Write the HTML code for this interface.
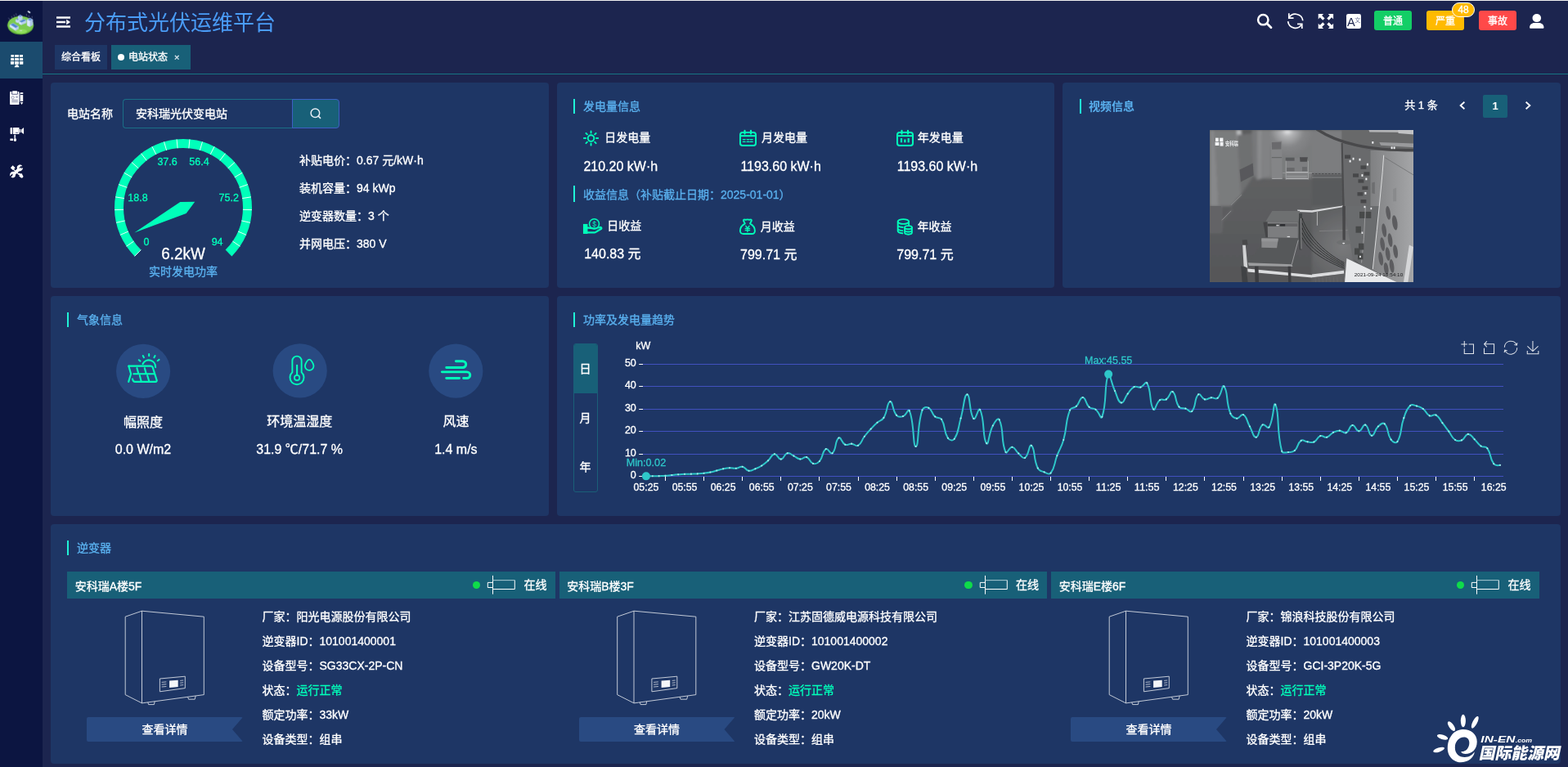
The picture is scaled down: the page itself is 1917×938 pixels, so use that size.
<!DOCTYPE html>
<html lang="zh-CN"><head><meta charset="utf-8"><title>分布式光伏运维平台</title>
<style>
*{box-sizing:border-box;margin:0;padding:0}
html,body{width:1917px;height:938px;overflow:hidden;background:#1c254f;}
body{position:relative;font-family:"Liberation Sans","Noto Sans CJK SC",sans-serif;color:#fff;font-size:14px;-webkit-text-stroke:0.3px currentColor;}
svg text{stroke-width:0.3px;}
.abs{position:absolute}
.t{position:absolute;white-space:nowrap;line-height:20px;height:20px}
.panel{position:absolute;background:#1e3665;border-radius:4px}
.bar{position:absolute;width:2px;height:18px;background:#20f3d6}
.ttl{position:absolute;white-space:nowrap;line-height:20px;height:20px;color:#5ab1ef;font-size:14px}
svg{position:absolute;overflow:visible}
</style></head>
<body>
<div class="abs" style="left:0;top:0;width:52px;height:938px;background:#0c1541"></div>
<div class="abs" style="left:0;top:51px;width:52px;height:45px;background:#1b4b6e"></div>
<div class="abs" style="left:0;top:0;width:1917px;height:1px;background:#f0f0f0"></div>
<svg width="0" height="0" style="left:0;top:0"><defs><filter id="ib" x="-10%" y="-10%" width="120%" height="120%"><feGaussianBlur stdDeviation="9"/></filter><filter id="lb" x="-10%" y="-10%" width="120%" height="120%"><feGaussianBlur stdDeviation="7"/></filter></defs></svg>
<svg style="left:4px;top:6px" width="44" height="44" viewBox="0 0 938 938"><g filter="url(#lb)">
<ellipse cx="450" cy="535" rx="342" ry="238" fill="#63b33a"/>
<ellipse cx="450" cy="515" rx="335" ry="222" fill="#7ccb50"/>
<ellipse cx="470" cy="690" rx="150" ry="60" fill="#8fe05c"/>
<path d="M130 330l40 60M215 290l20 70M270 250l30 60M330 215l10 60M600 230l10 60M660 270l10 50M745 290l10 50" stroke="#8f97b4" stroke-width="14" fill="none" opacity="0.7"/>
<polygon points="380,290 440,255 500,290 500,380 440,410 380,380" fill="#bcd3f1"/>
<polygon points="395,285 440,262 488,287 440,312" fill="#5d93d6"/>
<polygon points="320,380 370,355 420,380 420,450 370,470 320,445" fill="#c5daf5"/>
<polygon points="335,377 370,360 405,378 370,395" fill="#5b8fd2"/>
<polygon points="410,430 540,362 600,400 600,468 470,525 410,492" fill="#b8d0f0"/>
<polygon points="425,430 540,372 590,402 478,455" fill="#4f86cf"/>
<polygon points="410,436 472,462 470,525 410,492" fill="#d8e8fb"/>
<polygon points="170,512 258,470 402,560 402,622 322,672 170,572" fill="#b4cdee"/>
<polygon points="190,512 258,480 385,560 318,595" fill="#4f86cf"/>
<polygon points="170,518 320,602 322,672 170,572" fill="#d6e6fa"/>
<polygon points="620,380 698,338 772,380 772,522 692,572 620,532" fill="#b0c9ea"/>
<polygon points="620,384 694,420 692,572 620,532" fill="#dcebfc"/>
<polygon points="640,378 698,350 752,380 696,408" fill="#5c92d5"/>
<ellipse cx="672" cy="184" rx="44" ry="20" transform="rotate(35 672 184)" fill="#dfe8f4"/>
<rect x="430" y="660" width="60" height="22" fill="#dfe8f0" opacity="0.8"/>
</g></svg>
<svg style="left:6px;top:60px" width="30" height="30" viewBox="0 0 938 938" fill="#fff"><g filter="url(#ib)">
<rect x="232" y="215" width="113" height="92" rx="10"/><rect x="375" y="215" width="155" height="92" rx="10"/><rect x="560" y="215" width="128" height="92" rx="10"/>
<rect x="225" y="345" width="120" height="92" rx="10"/><rect x="375" y="345" width="155" height="92" rx="10"/><rect x="560" y="345" width="132" height="92" rx="10"/>
<rect x="218" y="472" width="127" height="112" rx="10"/><rect x="375" y="472" width="155" height="112" rx="10"/><rect x="560" y="472" width="138" height="112" rx="10"/>
<polygon points="425,600 495,600 540,672 540,692 368,692 368,672"/>
</g></svg>
<svg style="left:6px;top:104px" width="30" height="30" viewBox="0 0 938 938"><g filter="url(#ib)">
<rect x="190" y="252" width="355" height="498" rx="26" fill="#fff"/>
<rect x="252" y="238" width="246" height="128" rx="30" fill="#5a5f85"/>
<rect x="285" y="225" width="185" height="115" rx="22" fill="#fff"/>
<circle cx="302" cy="478" r="52" fill="none" stroke="#7a7f9f" stroke-width="24"/>
<rect x="415" y="420" width="82" height="72" fill="#a9adc4"/>
<rect x="258" y="565" width="240" height="26" fill="#6a6f92"/><rect x="258" y="628" width="240" height="26" fill="#6a6f92"/>
<rect x="585" y="282" width="112" height="62" rx="10" fill="#e4e6ee"/>
<rect x="590" y="378" width="104" height="245" fill="#fff"/>
<polygon points="588,660 697,660 642,752" fill="#fff"/>
<rect x="548" y="300" width="30" height="340" fill="#c9ccda"/>
</g></svg>
<svg style="left:6px;top:149px" width="30" height="30" viewBox="0 0 938 938" fill="#fff"><g filter="url(#ib)">
<rect x="205" y="222" width="80" height="250" rx="26"/>
<rect x="310" y="222" width="236" height="250" rx="14"/>
<rect x="408" y="398" width="94" height="36" fill="#70759a"/>
<rect x="556" y="285" width="46" height="128" rx="14"/>
<polygon points="626,300 722,218 722,472 626,400"/>
<rect x="352" y="492" width="60" height="130" fill="#d4d7e2"/>
<rect x="200" y="640" width="112" height="82" rx="8"/>
<ellipse cx="388" cy="688" rx="52" ry="62"/>
</g></svg>
<svg style="left:6px;top:195px" width="30" height="30" viewBox="0 0 938 938" fill="#fff"><g filter="url(#ib)">
<path d="M480 250C520 190 610 180 660 240L570 320L640 340C670 300 690 330 680 370C660 420 600 450 540 450L400 590C420 650 370 700 300 700C270 700 240 690 235 672L310 590L250 570L200 640C180 600 190 520 250 480C290 460 320 460 350 470L470 350C455 315 460 280 480 250Z"/>
<polygon points="215,318 300,228 395,322 308,412"/>
<path d="M330 380L530 570" stroke="#fff" stroke-width="40"/>
<path d="M505 535L560 520L600 545L640 530L700 640C705 690 660 720 620 705L540 640L555 600L520 580Z"/>
<path d="M545 330L625 255M215 640L300 565" stroke="#0c1541" stroke-width="30"/>
</g></svg>
<svg style="left:69px;top:20px" width="17" height="14" viewBox="0 0 17 14" fill="#fff">
<rect x="0" y="0.3" width="17" height="2.4"/><rect x="0" y="5.8" width="11" height="2.4"/><rect x="0" y="11.3" width="17" height="2.4"/>
<path d="M12.2 3.8L17 7l-4.8 3.2z"/></svg>
<div class="t" style="top:17.00px;font-size:26px;color:#4a9cf7;left:103.00px;line-height:36px;height:36px;top:9.8px;-webkit-text-stroke:0;">分布式光伏运维平台</div>
<svg style="left:1528px;top:6px" width="150" height="40" viewBox="0 0 1917 511">
<g fill="none" stroke="#fff">
<circle cx="208" cy="232" r="79" stroke-width="32"/><path d="M268 292L332 356" stroke-width="36" stroke-linecap="round"/>
<path d="M612 203A116 116 0 0 1 828 246M596 258A116 116 0 0 0 812 302" stroke-width="22"/>
<path d="M611 132V205H684M742 300H815V372" stroke-width="22"/>
</g>
<g fill="#fff">
<path d="M1070 140H1152L1126 166L1170 210L1140 240L1096 196L1070 222Z"/>
<path d="M1305 140V222L1279 196L1235 240L1205 210L1249 166L1223 140Z"/>
<path d="M1070 372V290L1096 316L1140 272L1170 302L1126 346L1152 372Z"/>
<path d="M1305 372H1223L1249 346L1205 302L1235 272L1279 316L1305 290Z"/>
<rect x="1508" y="140" width="230" height="232" rx="30"/>
</g>
<text x="1522" y="333" font-family='"Liberation Sans","Noto Sans CJK SC",sans-serif' font-size="186" fill="#1c254f" stroke="#1c254f" stroke-width="7">A</text>
<text x="1638" y="272" font-family='"Liberation Sans","Noto Sans CJK SC",sans-serif' font-size="90" fill="#6c7398">文</text>
</svg>
<div class="abs" style="left:1680px;top:13px;width:46px;height:24px;border-radius:3px;background:#13ce66;color:#fff;font-size:12px;line-height:26.5px;text-align:center">普通</div>
<div class="abs" style="left:1744px;top:13px;width:46px;height:24px;border-radius:3px;background:#ffba00;color:#fff;font-size:12px;line-height:26.5px;text-align:center">严重</div>
<div class="abs" style="left:1808px;top:13px;width:46px;height:24px;border-radius:3px;background:#ff4949;color:#fff;font-size:12px;line-height:26.5px;text-align:center">事故</div>
<div class="abs" style="left:1775.4px;top:3px;width:27.4px;height:18px;border-radius:9px;border:1px solid #fff;background:#ffba00;color:#fff;font-size:12px;line-height:17.400px;text-align:center">48</div>
<svg style="left:1870px;top:17px" width="19" height="18" viewBox="0 0 19 18" fill="#fff">
<ellipse cx="8.8" cy="5.1" rx="5.3" ry="5"/><path d="M0.1 16.500c0-3.400 2.700-5.600 5.800-5.600h5.800c3.100 0 5.800 2.200 5.800 5.600c0 .8-.5 1.300-1.300 1.300H1.400c-.8 0-1.300-.5-1.300-1.300z"/></svg>
<div class="abs" style="left:67px;top:55px;width:64px;height:30px;background:#1e3665;font-size:12px;line-height:31px;text-align:center">综合看板</div>
<div class="abs" style="left:136px;top:55px;width:97px;height:30px;background:#186078;font-size:12px;line-height:31px"><span class="abs" style="left:8px;top:11px;width:8px;height:8px;border-radius:50%;background:#fff"></span><span class="abs" style="left:21px;top:0">电站状态</span><span class="abs" style="left:77px;top:0;font-size:11px;color:#dfe8f0">×</span></div>
<div class="abs" style="left:52px;top:90px;width:1865px;height:1px;background:#167483"></div>
<div class="panel" style="left:62px;top:101px;width:608.67px;height:251px"></div>
<div class="panel" style="left:680.67px;top:101px;width:608.67px;height:251px"></div>
<div class="panel" style="left:1299.33px;top:101px;width:608.67px;height:251px"></div>
<div class="panel" style="left:62px;top:362px;width:608.67px;height:269px"></div>
<div class="panel" style="left:680.67px;top:362px;width:1227.33px;height:269px"></div>
<div class="panel" style="left:62px;top:641px;width:1846px;height:293px"></div>
<div class="t" style="top:129.00px;font-size:14px;color:#fff;left:82.00px;">电站名称</div>
<div class="abs" style="left:150px;top:121px;width:208px;height:36px;border:1px solid #1a6f86;border-right:none;border-radius:4px 0 0 4px;font-size:14px;line-height:34px;padding-left:15px;color:#fff">安科瑞光伏变电站</div>
<div class="abs" style="left:357px;top:121px;width:58px;height:36px;border:1px solid #3d5fc4;border-radius:0 4px 4px 0;background:#186078"></div>
<svg style="left:379px;top:132px" width="14" height="14" viewBox="0 0 14 14" fill="none" stroke="#e8eef5" stroke-width="1.5">
<circle cx="6.4" cy="6.2" r="5.3"/><path d="M10.3 10.1l2.3 2.3" stroke-linecap="round"/></svg>
<svg style="left:0;top:0" width="1917" height="938" viewBox="0 0 1917 938"><path d="M168.49 309.51A78.5 78.5 0 1 1 279.51 309.51" fill="none" stroke="#00ffba" stroke-width="11.0"/><path d="M164.60 313.40L172.38 305.62M154.53 301.22L163.62 295.03M146.91 287.36L157.00 282.99M142.02 272.32L152.76 269.92M140.04 256.64L151.04 256.29M141.03 240.86L151.90 242.58M144.97 225.55L155.32 229.27M151.70 211.24L161.17 216.84M160.99 198.45L169.24 205.72M172.52 187.63L179.26 196.32M185.86 179.16L190.86 188.96M200.56 173.34L203.63 183.90M216.09 170.37L217.13 181.32M231.91 170.37L230.87 181.32M247.44 173.34L244.37 183.90M262.14 179.16L257.14 188.96M275.48 187.63L268.74 196.32M287.01 198.45L278.76 205.72M296.30 211.24L286.83 216.84M303.03 225.55L292.68 229.27M306.97 240.86L296.10 242.58M307.96 256.64L296.96 256.29M305.98 272.32L295.24 269.92M301.09 287.36L291.00 282.99M293.47 301.22L284.38 295.03" stroke="#fff" stroke-width="1" fill="none" opacity="0.9"/><polygon points="238.23,246.69 220.34,246.88 164.40,284.62 227.66,261.12" fill="#00ffba"/><text x="178.9" y="299.9" text-anchor="middle" font-size="12.5" fill="#00ffba" stroke="#00ffba" font-family='"Liberation Sans","Noto Sans CJK SC",sans-serif'>0</text><text x="168.5" y="246.2" text-anchor="middle" font-size="12.5" fill="#00ffba" stroke="#00ffba" font-family='"Liberation Sans","Noto Sans CJK SC",sans-serif'>18.8</text><text x="204.6" y="202.1" text-anchor="middle" font-size="12.5" fill="#00ffba" stroke="#00ffba" font-family='"Liberation Sans","Noto Sans CJK SC",sans-serif'>37.6</text><text x="243.5" y="202.1" text-anchor="middle" font-size="12.5" fill="#00ffba" stroke="#00ffba" font-family='"Liberation Sans","Noto Sans CJK SC",sans-serif'>56.4</text><text x="279.7" y="246.2" text-anchor="middle" font-size="12.5" fill="#00ffba" stroke="#00ffba" font-family='"Liberation Sans","Noto Sans CJK SC",sans-serif'>75.2</text><text x="265.6" y="299.9" text-anchor="middle" font-size="12.5" fill="#00ffba" stroke="#00ffba" font-family='"Liberation Sans","Noto Sans CJK SC",sans-serif'>94</text><text x="224" y="317.3" text-anchor="middle" font-size="20.3" textLength="53.6" lengthAdjust="spacingAndGlyphs" fill="#fff" stroke="#fff" font-family='"Liberation Sans","Noto Sans CJK SC",sans-serif'>6.2kW</text></svg>
<div class="t" style="top:322.00px;font-size:14px;color:#5ab1ef;left:24.00px;width:400px;text-align:center;">实时发电功率</div>
<div class="t" style="top:186.00px;font-size:14px;color:#fff;left:366.00px;">补贴电价：0.67 元/kW·h</div>
<div class="t" style="top:220.00px;font-size:14px;color:#fff;left:366.00px;">装机容量：94 kWp</div>
<div class="t" style="top:254.00px;font-size:14px;color:#fff;left:366.00px;">逆变器数量：3 个</div>
<div class="t" style="top:288.00px;font-size:14px;color:#fff;left:366.00px;">并网电压：380 V</div>
<div class="bar" style="left:701px;top:121px"></div>
<div class="ttl" style="left:713px;top:120px">发电量信息</div>
<div class="bar" style="left:701px;top:227px;height:20px"></div>
<div class="ttl" style="left:713px;top:228px">收益信息（补贴截止日期：2025-01-01）</div>
<svg style="left:706px;top:152px" width="60" height="32" viewBox="0 0 60 32" fill="none" stroke="#00ffba" stroke-width="1.9" stroke-linecap="round"><circle cx="16.54" cy="17.05" r="3.8"/><path d="M23.04 17.05L25.14 17.05M21.14 21.65L22.62 23.13M16.54 23.55L16.54 25.65M11.94 21.65L10.46 23.13M10.04 17.05L7.94 17.05M11.94 12.45L10.46 10.97M16.54 10.55L16.54 8.45M21.14 12.45L22.62 10.97"/></svg>
<svg style="left:896px;top:152px" width="60" height="32" viewBox="0 0 60 32" fill="none" stroke="#00ffba"><rect x="9" y="10.05" width="19" height="15.9" rx="2.8" stroke-width="2"/><path d="M9 14.15H28" stroke-width="2"/><path d="M14.5 7.8V11.6M22 7.8V11.6" stroke-width="2.2" stroke-linecap="round"/><path d="M12.4 18.6h2.6M17.2 18.6h2.6M21.3 18.6h2.8M12.4 21.4h2.6M17.2 21.4h2.6M21.3 21.4h2.8" stroke-width="1.4" stroke-linecap="round"/></svg>
<svg style="left:1088px;top:152px" width="60" height="32" viewBox="0 0 60 32" fill="none" stroke="#00ffba"><rect x="9" y="10.05" width="19" height="15.9" rx="2.8" stroke-width="2"/><path d="M9 14.15H28" stroke-width="2"/><path d="M14.5 7.8V11.6M22 7.8V11.6" stroke-width="2.2" stroke-linecap="round"/><path d="M14 17V22.2M22.7 17V22.2M18.35 18.6V22.2" stroke-width="2.2"/></svg>
<svg style="left:710px;top:264px" width="30" height="24" viewBox="0 0 1172 938" fill="none" stroke="#00ffba" stroke-linejoin="round" stroke-linecap="round">
<rect x="115" y="388" width="215" height="470" fill="#00ffba" stroke="none"/>
<circle cx="645" cy="382" r="234" stroke-width="60"/>
<text x="645" y="497" text-anchor="middle" font-size="330" fill="#00ffba" stroke="#00ffba" stroke-width="8" font-family='"Liberation Sans","Noto Sans CJK SC",sans-serif'>$</text>
<path d="M325 572C420 552 480 598 600 598H740C800 598 850 570 905 548C965 528 1012 578 982 615L715 778C695 790 680 792 650 792H325" stroke-width="88"/>
<path d="M730 652L880 590" stroke="#1e3665" stroke-width="24"/>
</svg>
<svg style="left:896px;top:260px" width="60" height="32" viewBox="0 0 60 32" fill="none" stroke="#00ffba" stroke-linejoin="round" stroke-linecap="round">
<path d="M14.8 13.4l-1.700-3.200c-.5-1 .3-1.800 1.300-1.600 1.400.4 2.400-.2 3.500-.2s2.100.6 3.500.2c1-.2 1.800.6 1.300 1.600l-1.700 3.200c3.200 1.800 5.900 5.400 5.900 8.800 0 2.600-1.700 3.800-4 3.800h-10c-2.300 0-4-1.200-4-3.800 0-3.400 2.700-7 5.900-8.800z" stroke-width="1.9"/>
<path d="M15.800 16.300l2.100 2.700 2.100-2.700M15.200 19.400h5.400M15.200 21.500h5.400M17.900 19V23.600" stroke-width="1.3"/>
</svg>
<svg style="left:1088px;top:260px" width="60" height="32" viewBox="0 0 60 32" fill="none" stroke="#00ffba" stroke-width="1.9" stroke-linecap="round">
<ellipse cx="16.4" cy="11" rx="6.7" ry="2.9"/>
<path d="M9.700 11v11.500c0 1.400 2.400 2.400 5.600 2.800M23.100 11v4.200M9.700 15.200c0 1.300 2.600 2.500 6 2.800M9.700 19.400c0 1.300 2.300 2.300 5.600 2.700"/>
<ellipse cx="22.5" cy="18.200" rx="4.400" ry="2.100"/>
<path d="M18.100 18.200v6.400c0 1.200 2 2.100 4.400 2.100s4.400-.9 4.400-2.100v-6.400M18.100 21.400c0 1.200 2 2.100 4.400 2.100s4.400-.9 4.400-2.100"/>
</svg>
<div class="t" style="top:158.00px;font-size:14px;color:#fff;left:739.20px;">日发电量</div>
<div class="t" style="top:158.00px;font-size:14px;color:#fff;left:931.00px;">月发电量</div>
<div class="t" style="top:158.00px;font-size:14px;color:#fff;left:1121.70px;">年发电量</div>
<div class="t" style="top:194.10px;font-size:16px;color:#fff;left:713.40px;">210.20 kW·h</div>
<div class="t" style="top:194.10px;font-size:16px;color:#fff;left:905.40px;">1193.60 kW·h</div>
<div class="t" style="top:194.10px;font-size:16px;color:#fff;left:1096.70px;">1193.60 kW·h</div>
<div class="t" style="top:266.00px;font-size:14px;color:#fff;left:742.30px;">日收益</div>
<div class="t" style="top:267.00px;font-size:14px;color:#fff;left:929.80px;">月收益</div>
<div class="t" style="top:267.00px;font-size:14px;color:#fff;left:1121.50px;">年收益</div>
<div class="t" style="top:300.80px;font-size:16px;color:#fff;left:714.20px;">140.83 元</div>
<div class="t" style="top:302.30px;font-size:16px;color:#fff;left:905.00px;">799.71 元</div>
<div class="t" style="top:302.30px;font-size:16px;color:#fff;left:1096.30px;">799.71 元</div>
<div class="bar" style="left:1319.5px;top:121px"></div>
<div class="ttl" style="left:1331px;top:120px;font-weight:700;color:#5ab1ef;-webkit-text-stroke:0">视频信息</div>
<div class="t" style="top:119.00px;font-size:13px;color:#fff;left:1717.20px;">共 1 条</div>
<svg style="left:1783px;top:123px" width="10" height="12" viewBox="0 0 10 12" fill="none" stroke="#fff" stroke-width="1.8"><path d="M7.4 1.8L2.600 6l4.800 4.200"/></svg>
<svg style="left:1863px;top:123px" width="10" height="12" viewBox="0 0 10 12" fill="none" stroke="#fff" stroke-width="1.8"><path d="M2.600 1.800L7.400 6l-4.800 4.200"/></svg>
<div class="abs" style="left:1813px;top:116px;width:30px;height:28px;border-radius:2px;background:#186078;color:#fff;font-size:13px;font-weight:700;line-height:28px;text-align:center;-webkit-text-stroke:0">1</div>
<svg style="left:1479px;top:159px" width="249" height="186" viewBox="0 0 249 186"><defs><filter id="vb" x="-5%" y="-5%" width="110%" height="110%"><feGaussianBlur stdDeviation="0.55"/></filter><filter id="vb2" x="-5%" y="-5%" width="110%" height="110%"><feGaussianBlur stdDeviation="1.6"/></filter><radialGradient id="vlt" gradientUnits="userSpaceOnUse" cx="95" cy="0" r="34"><stop offset="0" stop-color="#f3f4f6"/><stop offset="0.22" stop-color="#b3b4b6"/><stop offset="0.6" stop-color="#858688"/><stop offset="1" stop-color="#7a7b7d"/></radialGradient><linearGradient id="vcab" gradientUnits="userSpaceOnUse" x1="196" y1="0" x2="249" y2="0"><stop offset="0" stop-color="#7f8082"/><stop offset="1" stop-color="#a5a6a8"/></linearGradient><linearGradient id="vfl" gradientUnits="userSpaceOnUse" x1="0" y1="60" x2="0" y2="186"><stop offset="0" stop-color="#5e5f61"/><stop offset="1" stop-color="#555658"/></linearGradient><radialGradient id="vfl2" gradientUnits="userSpaceOnUse" cx="163" cy="142" r="45"><stop offset="0" stop-color="#797a7c"/><stop offset="1" stop-color="#616264"/></radialGradient><clipPath id="vclip"><rect x="0" y="0" width="249" height="186"/></clipPath></defs><g clip-path="url(#vclip)"><rect x="0" y="0" width="249" height="186" fill="#5b5c5e"/><g filter="url(#vb2)"><polygon points="63.4,0.0 125.0,0.0 125.0,59.5 63.4,59.5" fill="url(#vlt)" /><polygon points="125.0,0.0 162.7,0.0 162.7,54.0 125.0,54.0" fill="#7c7d7f" /><polygon points="0.0,0.0 5.9,0.0 10.9,93.0 0.0,93.0" fill="#87888a" /><polygon points="5.0,0.0 33.7,0.0 38.7,79.3 25.8,93.0 10.9,93.0" fill="#7a7b7d" /><polygon points="32.7,0.0 38.7,0.0 39.6,11.9 33.7,11.9" fill="#b8b9bb" /><polygon points="33.7,5.9 52.5,4.0 54.0,55.5 38.2,79.3" fill="#6e6f71" /><polygon points="51.5,0.0 64.4,0.0 64.4,59.5 58.0,61.4 53.5,55.5" fill="#77787a" /><polygon points="58.0,0.0 63.9,0.0 63.4,59.5 58.5,60.5" fill="#8a8b8d" /><polygon points="64.4,0.0 73.8,0.0 73.8,55.5 64.4,58.5" fill="#818284" /><polygon points="38.7,79.3 54.0,56.0 59.5,63.4 75.3,59.5 125.0,59.5 125.0,93.0 25.8,93.0" fill="url(#vfl)" /><polygon points="125.0,58.5 162.7,58.5 166.6,93.0 125.0,93.0" fill="#595a5c" /><polygon points="0.0,93.0 125.0,93.0 125.0,186.0 0.0,186.0" fill="url(#vfl)" /><polygon points="0.0,93.0 14.9,93.0 14.9,109.8 25.8,98.0 26.3,93.0 26.8,93.0 27.8,98.9 15.9,111.8 14.9,125.7 0.0,125.7" fill="#67686a" /><polygon points="125.0,93.0 176.5,93.0 176.5,186.0 125.0,186.0" fill="url(#vfl2)" /></g><g filter="url(#vb)"><polygon points="36.5,48.6 52.7,40.6 53.7,55.5 37.9,63.4" fill="#58595b" /><polyline points="38.9,79.3 26.0,91.7" fill="none" stroke="#8d8e90" stroke-width="0.9" /><polyline points="14.9,110.3 26.0,98.9" fill="none" stroke="#8f9092" stroke-width="0.9" /><polygon points="74.8,13.9 88.2,13.4 88.7,59.5 75.8,60.0" fill="#848587" /><polygon points="75.8,14.9 87.4,14.7 87.4,23.6 76.1,23.8" fill="#6a6b6d" /><polyline points="75.8,33.7 88.2,33.7" fill="none" stroke="#5b5c5e" stroke-width="0.9" /><polyline points="76.3,59.5 88.7,59.3" fill="none" stroke="#a7a8aa" stroke-width="1.0" /><polygon points="92.7,34.2 120.4,34.2 120.4,60.5 92.7,60.5" fill="#7e7f81" /><polygon points="92.7,33.7 103.6,33.7 103.6,37.7 92.7,37.7" fill="#595a5c" /><polygon points="110.0,33.2 119.9,33.2 118.9,38.7 110.5,38.7" fill="#4d4e50" /><polygon points="94.2,46.1 103.6,46.1 103.6,50.5 94.2,50.5" fill="#67686a" /><polygon points="113.0,45.1 118.9,45.1 118.9,50.5 113.0,50.5" fill="#696a6c" /><polyline points="93.2,51.5 120.4,51.5" fill="none" stroke="#b4b5b7" stroke-width="1.0" /><polyline points="93.2,59.5 120.4,59.5" fill="none" stroke="#b4b5b7" stroke-width="1.0" /><polyline points="93.2,37.7 93.2,60.5" fill="none" stroke="#a7a8aa" stroke-width="0.8" /><polyline points="120.4,37.7 120.4,60.5" fill="none" stroke="#a7a8aa" stroke-width="0.8" /><polygon points="94.2,55.5 118.9,55.5 118.9,58.5 94.2,58.5" fill="#8e8f91" /><polyline points="125.0,53.5 161.7,53.5" fill="none" stroke="#494a4c" stroke-width="0.9" stroke-dasharray="2.5 1.5"/><polyline points="125.0,58.0 161.7,58.0" fill="none" stroke="#898a8c" stroke-width="0.9" /><polyline points="89.2,52.5 125.0,52.5" fill="none" stroke="#999a9c" stroke-width="0.8" /><polygon points="0.0,93.0 13.9,93.0 13.9,124.7 0.0,125.7" fill="#636466" /><polygon points="161.7,0.0 250.0,0.0 250.0,25.8 196.4,24.8 161.7,14.9" fill="#68696b" /><polygon points="194.4,0.0 250.0,0.0 250.0,3.0 195.4,2.5" fill="#b3b4b6" /><polygon points="230.1,0.0 250.0,0.0 250.0,5.5 230.6,4.0" fill="#c1c2c4" /><polygon points="207.3,14.9 250.0,16.4 250.0,21.3 209.2,18.8" fill="#999a9c" /><polygon points="161.2,14.9 196.4,24.8 196.4,93.0 164.6,93.0" fill="#696a6c" /><polygon points="164.6,93.0 196.4,93.0 208.3,93.0 199.3,172.3 184.5,164.4 174.6,156.4" fill="#6b6c6e" /><polygon points="196.4,24.8 250.0,26.0 250.0,93.0 196.4,93.0" fill="url(#vcab)" /><polygon points="207.3,93.0 250.0,93.0 250.0,186.0 228.1,186.0 199.3,171.3" fill="url(#vcab)" /><polygon points="160.7,15.9 162.7,15.9 164.6,93.0 162.2,93.0" fill="#4b4c4e" /><polyline points="214.2,33.7 250.0,55.5" fill="none" stroke="#696a6c" stroke-width="0.7" /><polyline points="212.7,30.7 211.2,51.5 207.3,93.0" fill="none" stroke="#e5e6e8" stroke-width="0.9" /><polyline points="207.3,93.0 204.3,122.7 199.3,170.3" fill="none" stroke="#e5e6e8" stroke-width="0.9" /><polyline points="190.4,93.0 188.4,132.6 185.5,162.4" fill="none" stroke="#afb0b2" stroke-width="0.7" /><path d="M130.9 -1.0C157.7 16.8 194.4 24.8 250.0 24.8" fill="none" stroke="#494a4c" stroke-width="3.4"/><polygon points="174.6,33.8 176.5,33.8 176.5,36.6 174.6,36.6" fill="#eff0f2" /><polygon points="182.5,34.8 184.5,34.8 184.5,37.6 182.5,37.6" fill="#eff0f2" /><polygon points="191.9,40.7 193.9,40.7 193.9,43.5 191.9,43.5" fill="#eff0f2" /><polygon points="190.4,58.6 192.4,58.6 192.4,61.3 190.4,61.3" fill="#eff0f2" /><polygon points="189.4,75.9 191.4,75.9 191.4,78.7 189.4,78.7" fill="#eff0f2" /><polygon points="185.5,54.1 187.4,54.1 187.4,56.9 185.5,56.9" fill="#eff0f2" /><polygon points="170.6,36.8 172.6,36.8 172.6,39.5 170.6,39.5" fill="#eff0f2" /><polygon points="198.3,14.0 200.3,14.0 200.3,16.7 198.3,16.7" fill="#eff0f2" /><polygon points="221.6,20.4 223.6,20.4 223.6,23.2 221.6,23.2" fill="#eff0f2" /><polygon points="224.6,20.4 226.6,20.4 226.6,23.2 224.6,23.2" fill="#eff0f2" /><polygon points="184.5,43.4 191.4,43.4 191.4,47.8 184.5,47.8" fill="#464749" /><polygon points="188.4,51.3 195.4,51.3 195.4,55.7 188.4,55.7" fill="#464749" /><polygon points="181.5,60.3 188.4,60.3 188.4,64.6 181.5,64.6" fill="#464749" /><polygon points="186.4,68.7 193.4,68.7 193.4,73.0 186.4,73.0" fill="#464749" /><polygon points="180.5,76.1 187.4,76.1 187.4,80.5 180.5,80.5" fill="#464749" /><polygon points="184.5,85.0 191.4,85.0 191.4,89.4 184.5,89.4" fill="#464749" /><polygon points="175.0,53.3 182.0,53.3 182.0,57.7 175.0,57.7" fill="#464749" /><polygon points="165.1,30.5 172.1,30.5 172.1,34.9 165.1,34.9" fill="#464749" /><polygon points="183.0,99.9 189.4,99.9 189.4,107.9 183.0,107.9" fill="#47484a" /><polygon points="190.9,99.9 197.3,99.9 197.3,107.9 190.9,107.9" fill="#47484a" /><polygon points="178.5,117.8 185.0,117.8 185.0,125.7 178.5,125.7" fill="#47484a" /><polygon points="182.0,138.6 188.4,138.6 188.4,146.5 182.0,146.5" fill="#47484a" /><polygon points="177.0,144.5 183.5,144.5 183.5,152.5 177.0,152.5" fill="#47484a" /><polygon points="181.0,150.5 187.4,150.5 187.4,158.4 181.0,158.4" fill="#47484a" /><polygon points="188.5,92.8 190.3,92.8 190.3,95.2 188.5,95.2" fill="#ebecee" /><polygon points="196.5,94.8 198.2,94.8 198.2,97.2 196.5,97.2" fill="#ebecee" /><polygon points="185.6,124.5 187.3,124.5 187.3,126.9 185.6,126.9" fill="#ebecee" /><polygon points="183.1,153.8 184.9,153.8 184.9,156.1 183.1,156.1" fill="#ebecee" /><polygon points="198.3,64.4 201.8,63.4 201.8,78.3 198.3,77.3" fill="#6d6e70" /><polygon points="224.1,72.3 228.1,70.4 228.1,87.2 224.1,87.2" fill="#898a8c" /><ellipse cx="218.2" cy="101.4" rx="2.7" ry="8.4" fill="#5b5c5e" transform="rotate(-8 218.2 101.4)"/><ellipse cx="226.3" cy="113.3" rx="3.1" ry="9.2" fill="#5b5c5e" transform="rotate(-8 226.3 113.3)"/><ellipse cx="213.2" cy="122.7" rx="2.7" ry="8.4" fill="#5b5c5e" transform="rotate(-8 213.2 122.7)"/><ellipse cx="220.6" cy="134.6" rx="2.7" ry="8.4" fill="#5b5c5e" transform="rotate(-8 220.6 134.6)"/><ellipse cx="227.1" cy="148.5" rx="2.7" ry="8.4" fill="#5b5c5e" transform="rotate(-8 227.1 148.5)"/><ellipse cx="211.2" cy="139.6" rx="2.7" ry="8.4" fill="#5b5c5e" transform="rotate(-8 211.2 139.6)"/><ellipse cx="217.7" cy="151.5" rx="2.7" ry="8.4" fill="#5b5c5e" transform="rotate(-8 217.7 151.5)"/><ellipse cx="209.2" cy="157.4" rx="2.7" ry="8.4" fill="#5b5c5e" transform="rotate(-8 209.2 157.4)"/><ellipse cx="215.7" cy="169.3" rx="2.7" ry="7.4" fill="#5b5c5e" transform="rotate(-8 215.7 169.3)"/><ellipse cx="222.6" cy="166.3" rx="2.7" ry="8.4" fill="#5b5c5e" transform="rotate(-8 222.6 166.3)"/><polygon points="243.9,140.6 248.9,143.0 242.4,186.0 237.0,186.0" fill="#d5d6d8" /><polygon points="107.0,97.5 125.0,98.2 125.0,100.7 108.0,100.1" fill="#d9dadc" /><polygon points="125.0,98.2 162.7,92.5 163.7,94.0 125.0,100.7" fill="#d9dadc" /><polyline points="131.4,99.9 131.4,116.8" fill="none" stroke="#bcbdbf" stroke-width="0.9" /><polyline points="133.9,123.5 168.6,122.7" fill="none" stroke="#898a8c" stroke-width="0.7" /><polygon points="162.2,93.0 165.8,93.0 165.8,135.6 162.5,135.6" fill="#464749" /><ellipse cx="163.9" cy="137.4" rx="9" ry="2.8" fill="#6e6f71"/><ellipse cx="163.7" cy="138.6" rx="1.6" ry="0.8" fill="#dfe0e2"/><polygon points="76.3,98.9 110.2,98.9 108.2,112.0 68.4,111.8" fill="#6e6f71" /><polygon points="69.4,112.3 107.8,112.6 107.8,131.9 70.9,131.3" fill="#7c7d7f" /><polygon points="70.2,114.3 107.2,114.3 107.2,118.0 70.2,117.8" fill="#636466" /><polygon points="70.9,114.8 85.2,114.8 85.2,117.6 70.9,117.6" fill="#3e3f41" /><polygon points="86.0,115.0 92.2,115.0 92.2,117.6 86.0,117.6" fill="#2d2e30" /><polygon points="81.3,115.8 84.7,115.8 84.7,117.4 81.3,117.4" fill="#cecfd1" /><polygon points="94.6,129.9 98.1,129.9 98.1,131.1 94.6,131.1" fill="#dfe0e2" /><polygon points="65.4,112.8 70.6,112.3 70.9,131.3 68.4,131.3" fill="#444547" /><polygon points="68.4,131.9 108.2,132.6 100.3,164.6 46.6,162.4" fill="#57585a" /><polygon points="63.4,132.6 83.7,132.8 82.1,144.3 63.4,143.7" fill="#8a8b8d" /><polygon points="63.4,132.6 83.7,132.8 83.3,136.6 63.4,136.2" fill="#949597" /><polygon points="46.6,162.2 100.3,164.2 101.6,167.1 47.8,165.9" fill="#9b9c9e" /><polyline points="108.2,134.6 100.3,164.4" fill="none" stroke="#999a9c" stroke-width="1.0" /><polygon points="40.1,140.4 43.8,140.4 46.4,168.8 41.6,166.5" fill="#d1d2d4" /><polygon points="39.6,134.6 45.6,134.1 46.6,140.6 40.1,140.6" fill="#494a4c" /><polygon points="46.1,169.5 125.0,177.2 125.0,180.4 46.6,173.5" fill="#dbdcde" /><polygon points="125.0,176.4 163.9,171.8 164.2,175.5 125.0,180.4" fill="#dbdcde" /><polygon points="55.0,166.8 59.5,166.8 60.0,186.0 55.5,186.0" fill="#3d3e40" /><polygon points="95.6,166.8 99.1,166.8 99.6,186.0 96.1,186.0" fill="#3d3e40" /><polygon points="38.2,166.3 44.6,168.3 46.6,186.0 39.6,186.0" fill="#414244" /><polygon points="109.0,101.9 113.0,101.9 112.5,146.5 109.5,146.5" fill="#434446" /><polyline points="111.5,107.9 112.0,145.5" fill="none" stroke="#c7c8ca" stroke-width="0.6" /><path d="M113.0 107.9C118.9 125.7 136.9 148.5 164.6 162.4" fill="none" stroke="#2b2c2e" stroke-width="0.9"/><path d="M113.0 113.8C118.9 130.7 136.9 151.0 164.6 164.2" fill="none" stroke="#2b2c2e" stroke-width="0.9"/><path d="M113.0 119.8C118.9 135.6 136.9 153.5 164.6 165.9" fill="none" stroke="#2b2c2e" stroke-width="0.9"/><path d="M113.0 125.7C118.9 140.6 136.9 155.9 164.6 167.7" fill="none" stroke="#2b2c2e" stroke-width="0.9"/><path d="M113.0 131.7C118.9 145.5 136.9 158.4 164.6 169.5" fill="none" stroke="#2b2c2e" stroke-width="0.9"/><polyline points="129.0,180.2 129.5,186.0" fill="none" stroke="#7c7d7f" stroke-width="0.7" /><polyline points="133.4,180.2 133.9,186.0" fill="none" stroke="#7c7d7f" stroke-width="0.7" /><polyline points="137.9,180.2 138.4,186.0" fill="none" stroke="#7c7d7f" stroke-width="0.7" /><polyline points="142.3,180.2 142.8,186.0" fill="none" stroke="#7c7d7f" stroke-width="0.7" /><polyline points="146.8,180.2 147.3,186.0" fill="none" stroke="#7c7d7f" stroke-width="0.7" /><polyline points="151.3,180.2 151.8,186.0" fill="none" stroke="#7c7d7f" stroke-width="0.7" /><polyline points="155.7,180.2 156.2,186.0" fill="none" stroke="#7c7d7f" stroke-width="0.7" /><polyline points="160.2,180.2 160.7,186.0" fill="none" stroke="#7c7d7f" stroke-width="0.7" /><polyline points="164.6,180.2 165.1,186.0" fill="none" stroke="#7c7d7f" stroke-width="0.7" /><polygon points="125.0,180.2 164.6,175.8 164.6,186.0 125.0,186.0" fill="#5d5e60" opacity="0.6"/><polygon points="167.4,156.9 228.6,186.0 165.1,186.0" fill="#e8e9eb" /></g><g fill="#f1f2f4"><rect x="7" y="9.6" width="3.8" height="4.4"/><rect x="12.200" y="9.600" width="4.2" height="4.4"/><rect x="6.600" y="14.800" width="4.800" height="4.200"/><rect x="12.600" y="14.600" width="4" height="5"/></g><text x="19" y="18.600" font-size="6.5" font-weight="700" fill="#eeeff1" font-family='"Liberation Sans","Noto Sans CJK SC",sans-serif' textLength="15.8" lengthAdjust="spacingAndGlyphs">安科瑞</text><text x="176.800" y="179.300" font-size="5.6" fill="#1b1c1e" font-family='"Liberation Sans","Noto Sans CJK SC",sans-serif' textLength="59.4" lengthAdjust="spacingAndGlyphs">2021-09-24 10:54:10</text></g></svg>
<div class="bar" style="left:82px;top:382px"></div>
<div class="ttl" style="left:94px;top:381px">气象信息</div>
<svg style="left:135px;top:415px" width="80" height="80" viewBox="0 0 938 938"><circle cx="470.2" cy="456.1" r="388.1" fill="#294a82"/><g fill="none" stroke="#00ffba" stroke-linecap="round" stroke-linejoin="round">
<path d="M262 383H575Q600 383 608 408L664 585Q670 608 645 608H352Q325 608 316 568" stroke-width="25"/>
<path d="M262 383L294 495L260 608" stroke-width="25"/>
<path d="M332 495H632M380 412L400 482M490 412L510 482M420 520L440 596M530 520L553 596" stroke-width="24"/>
<path d="M464 352A96 96 0 0 1 646 400" stroke-width="25"/>
<path d="M408 296L428 312M466 235L480 260M553 212V238M640 235L626 260M698 292L676 308" stroke-width="24"/></g></svg>
<svg style="left:326px;top:415px" width="80" height="80" viewBox="0 0 938 938"><circle cx="477.2" cy="450.2" r="388.1" fill="#294a82"/><g fill="none" stroke="#00ffba" stroke-linecap="round" stroke-linejoin="round">
<path d="M368 472V308A66 66 0 0 1 500 308V472A100 100 0 1 1 368 472Z" stroke-width="22"/>
<circle cx="435" cy="552" r="37" stroke-width="21"/>
<path d="M435 372V515" stroke-width="24"/>
<path d="M612 288C634 288 674 346 674 382A62 62 0 0 1 550 382C550 346 590 288 612 288Z" stroke-width="21"/></g></svg>
<svg style="left:517px;top:415px" width="80" height="80" viewBox="0 0 938 938"><circle cx="472.5" cy="453.8" r="388.1" fill="#294a82"/><g fill="none" stroke="#00ffba" stroke-linecap="round" stroke-linejoin="round">
<path d="M474 313H572A46 46 0 0 1 572 405H337" stroke-width="34"/>
<path d="M274 467H632A45 45 0 0 1 632 557H582" stroke-width="34"/>
<path d="M337 557H522" stroke-width="34"/></g></svg>
<div class="t" style="top:507.00px;font-size:16px;color:#fff;left:-25.00px;width:400px;text-align:center;">幅照度</div>
<div class="t" style="top:506.30px;font-size:16px;color:#fff;left:166.20px;width:400px;text-align:center;">环境温湿度</div>
<div class="t" style="top:506.10px;font-size:16px;color:#fff;left:357.40px;width:400px;text-align:center;">风速</div>
<div class="t" style="top:540.30px;font-size:16px;color:#fff;left:-25.00px;width:400px;text-align:center;">0.0 W/m2</div>
<div class="t" style="top:540.10px;font-size:16px;color:#fff;left:166.20px;width:400px;text-align:center;">31.9 ℃/71.7 %</div>
<div class="t" style="top:540.00px;font-size:16px;color:#fff;left:357.40px;width:400px;text-align:center;">1.4 m/s</div>
<div class="bar" style="left:701px;top:382px"></div>
<div class="ttl" style="left:713px;top:381px">功率及发电量趋势</div>
<div class="abs" style="left:701px;top:419.5px;width:30px;height:182px;border:1px solid #1a5f78;border-radius:3px;overflow:hidden"><div style="height:60px;background:#186078"></div></div>
<div class="t" style="top:440.60px;font-size:14px;color:#fff;left:515.60px;width:400px;text-align:center;">日</div>
<div class="t" style="top:500.90px;font-size:14px;color:#fff;left:515.60px;width:400px;text-align:center;">月</div>
<div class="t" style="top:561.10px;font-size:14px;color:#fff;left:515.60px;width:400px;text-align:center;">年</div>
<svg style="left:0;top:0" width="1917" height="938" viewBox="0 0 1917 938"><path d="M786.0 582.50H1838.0" stroke="#4150be" stroke-width="1"/><path d="M781.2 582.50H786.0" stroke="#ffffff" stroke-width="1"/><text x="777.8" y="585.30" text-anchor="end" font-size="12.5" fill="#ffffff" stroke="#ffffff" font-family='"Liberation Sans","Noto Sans CJK SC",sans-serif'>0</text><path d="M786.0 555.50H1838.0" stroke="#4150be" stroke-width="1"/><path d="M781.2 555.50H786.0" stroke="#ffffff" stroke-width="1"/><text x="777.8" y="558.30" text-anchor="end" font-size="12.5" fill="#ffffff" stroke="#ffffff" font-family='"Liberation Sans","Noto Sans CJK SC",sans-serif'>10</text><path d="M786.0 527.50H1838.0" stroke="#4150be" stroke-width="1"/><path d="M781.2 527.50H786.0" stroke="#ffffff" stroke-width="1"/><text x="777.8" y="530.30" text-anchor="end" font-size="12.5" fill="#ffffff" stroke="#ffffff" font-family='"Liberation Sans","Noto Sans CJK SC",sans-serif'>20</text><path d="M786.0 500.50H1838.0" stroke="#4150be" stroke-width="1"/><path d="M781.2 500.50H786.0" stroke="#ffffff" stroke-width="1"/><text x="777.8" y="503.30" text-anchor="end" font-size="12.5" fill="#ffffff" stroke="#ffffff" font-family='"Liberation Sans","Noto Sans CJK SC",sans-serif'>30</text><path d="M786.0 472.50H1838.0" stroke="#4150be" stroke-width="1"/><path d="M781.2 472.50H786.0" stroke="#ffffff" stroke-width="1"/><text x="777.8" y="475.30" text-anchor="end" font-size="12.5" fill="#ffffff" stroke="#ffffff" font-family='"Liberation Sans","Noto Sans CJK SC",sans-serif'>40</text><path d="M786.0 445.50H1838.0" stroke="#4150be" stroke-width="1"/><path d="M781.2 445.50H786.0" stroke="#ffffff" stroke-width="1"/><text x="777.8" y="448.30" text-anchor="end" font-size="12.5" fill="#ffffff" stroke="#ffffff" font-family='"Liberation Sans","Noto Sans CJK SC",sans-serif'>50</text><path d="M813.50 583V588M860.50 583V588M907.50 583V588M954.50 583V588M1001.50 583V588M1049.50 583V588M1096.50 583V588M1143.50 583V588M1190.50 583V588M1237.50 583V588M1284.50 583V588M1331.50 583V588M1378.50 583V588M1425.50 583V588M1472.50 583V588M1520.50 583V588M1567.50 583V588M1614.50 583V588M1661.50 583V588M1708.50 583V588M1755.50 583V588M1802.50 583V588" stroke="#ffffff" stroke-width="1" fill="none"/><text x="789.93" y="600.1" text-anchor="middle" font-size="12.5" fill="#ffffff" stroke="#ffffff" textLength="30.8" lengthAdjust="spacingAndGlyphs" font-family='"Liberation Sans","Noto Sans CJK SC",sans-serif'>05:25</text><text x="837.03" y="600.1" text-anchor="middle" font-size="12.5" fill="#ffffff" stroke="#ffffff" textLength="30.8" lengthAdjust="spacingAndGlyphs" font-family='"Liberation Sans","Noto Sans CJK SC",sans-serif'>05:55</text><text x="884.13" y="600.1" text-anchor="middle" font-size="12.5" fill="#ffffff" stroke="#ffffff" textLength="30.8" lengthAdjust="spacingAndGlyphs" font-family='"Liberation Sans","Noto Sans CJK SC",sans-serif'>06:25</text><text x="931.24" y="600.1" text-anchor="middle" font-size="12.5" fill="#ffffff" stroke="#ffffff" textLength="30.8" lengthAdjust="spacingAndGlyphs" font-family='"Liberation Sans","Noto Sans CJK SC",sans-serif'>06:55</text><text x="978.34" y="600.1" text-anchor="middle" font-size="12.5" fill="#ffffff" stroke="#ffffff" textLength="30.8" lengthAdjust="spacingAndGlyphs" font-family='"Liberation Sans","Noto Sans CJK SC",sans-serif'>07:25</text><text x="1025.45" y="600.1" text-anchor="middle" font-size="12.5" fill="#ffffff" stroke="#ffffff" textLength="30.8" lengthAdjust="spacingAndGlyphs" font-family='"Liberation Sans","Noto Sans CJK SC",sans-serif'>07:55</text><text x="1072.55" y="600.1" text-anchor="middle" font-size="12.5" fill="#ffffff" stroke="#ffffff" textLength="30.8" lengthAdjust="spacingAndGlyphs" font-family='"Liberation Sans","Noto Sans CJK SC",sans-serif'>08:25</text><text x="1119.66" y="600.1" text-anchor="middle" font-size="12.5" fill="#ffffff" stroke="#ffffff" textLength="30.8" lengthAdjust="spacingAndGlyphs" font-family='"Liberation Sans","Noto Sans CJK SC",sans-serif'>08:55</text><text x="1166.76" y="600.1" text-anchor="middle" font-size="12.5" fill="#ffffff" stroke="#ffffff" textLength="30.8" lengthAdjust="spacingAndGlyphs" font-family='"Liberation Sans","Noto Sans CJK SC",sans-serif'>09:25</text><text x="1213.87" y="600.1" text-anchor="middle" font-size="12.5" fill="#ffffff" stroke="#ffffff" textLength="30.8" lengthAdjust="spacingAndGlyphs" font-family='"Liberation Sans","Noto Sans CJK SC",sans-serif'>09:55</text><text x="1260.97" y="600.1" text-anchor="middle" font-size="12.5" fill="#ffffff" stroke="#ffffff" textLength="30.8" lengthAdjust="spacingAndGlyphs" font-family='"Liberation Sans","Noto Sans CJK SC",sans-serif'>10:25</text><text x="1308.07" y="600.1" text-anchor="middle" font-size="12.5" fill="#ffffff" stroke="#ffffff" textLength="30.8" lengthAdjust="spacingAndGlyphs" font-family='"Liberation Sans","Noto Sans CJK SC",sans-serif'>10:55</text><text x="1355.18" y="600.1" text-anchor="middle" font-size="12.5" fill="#ffffff" stroke="#ffffff" textLength="30.8" lengthAdjust="spacingAndGlyphs" font-family='"Liberation Sans","Noto Sans CJK SC",sans-serif'>11:25</text><text x="1402.28" y="600.1" text-anchor="middle" font-size="12.5" fill="#ffffff" stroke="#ffffff" textLength="30.8" lengthAdjust="spacingAndGlyphs" font-family='"Liberation Sans","Noto Sans CJK SC",sans-serif'>11:55</text><text x="1449.39" y="600.1" text-anchor="middle" font-size="12.5" fill="#ffffff" stroke="#ffffff" textLength="30.8" lengthAdjust="spacingAndGlyphs" font-family='"Liberation Sans","Noto Sans CJK SC",sans-serif'>12:25</text><text x="1496.49" y="600.1" text-anchor="middle" font-size="12.5" fill="#ffffff" stroke="#ffffff" textLength="30.8" lengthAdjust="spacingAndGlyphs" font-family='"Liberation Sans","Noto Sans CJK SC",sans-serif'>12:55</text><text x="1543.60" y="600.1" text-anchor="middle" font-size="12.5" fill="#ffffff" stroke="#ffffff" textLength="30.8" lengthAdjust="spacingAndGlyphs" font-family='"Liberation Sans","Noto Sans CJK SC",sans-serif'>13:25</text><text x="1590.70" y="600.1" text-anchor="middle" font-size="12.5" fill="#ffffff" stroke="#ffffff" textLength="30.8" lengthAdjust="spacingAndGlyphs" font-family='"Liberation Sans","Noto Sans CJK SC",sans-serif'>13:55</text><text x="1637.81" y="600.1" text-anchor="middle" font-size="12.5" fill="#ffffff" stroke="#ffffff" textLength="30.8" lengthAdjust="spacingAndGlyphs" font-family='"Liberation Sans","Noto Sans CJK SC",sans-serif'>14:25</text><text x="1684.91" y="600.1" text-anchor="middle" font-size="12.5" fill="#ffffff" stroke="#ffffff" textLength="30.8" lengthAdjust="spacingAndGlyphs" font-family='"Liberation Sans","Noto Sans CJK SC",sans-serif'>14:55</text><text x="1732.01" y="600.1" text-anchor="middle" font-size="12.5" fill="#ffffff" stroke="#ffffff" textLength="30.8" lengthAdjust="spacingAndGlyphs" font-family='"Liberation Sans","Noto Sans CJK SC",sans-serif'>15:25</text><text x="1779.12" y="600.1" text-anchor="middle" font-size="12.5" fill="#ffffff" stroke="#ffffff" textLength="30.8" lengthAdjust="spacingAndGlyphs" font-family='"Liberation Sans","Noto Sans CJK SC",sans-serif'>15:55</text><text x="1826.22" y="600.1" text-anchor="middle" font-size="12.5" fill="#ffffff" stroke="#ffffff" textLength="30.8" lengthAdjust="spacingAndGlyphs" font-family='"Liberation Sans","Noto Sans CJK SC",sans-serif'>16:25</text><text x="786.3" y="427" text-anchor="middle" font-size="12.5" fill="#ffffff" stroke="#ffffff" font-family='"Liberation Sans","Noto Sans CJK SC",sans-serif'>kW</text><path d="M789.93 582.35C789.93 582.35 793.85 582.32 797.78 582.26C801.70 582.21 801.70 582.23 805.63 582.13C809.55 582.02 809.56 582.13 813.48 581.85C817.41 581.58 817.40 581.41 821.33 581.03C825.25 580.65 825.25 580.64 829.18 580.35C833.10 580.05 833.10 580.02 837.03 579.85C840.95 579.68 840.96 579.78 844.88 579.66C848.81 579.54 848.81 579.63 852.73 579.39C856.66 579.15 856.67 579.18 860.58 578.70C864.52 578.22 864.54 578.25 868.43 577.47C872.39 576.67 872.37 576.57 876.28 575.55C880.23 574.52 880.15 574.19 884.13 573.36C888.00 572.55 888.05 572.40 891.99 572.26C895.90 572.13 895.97 573.18 899.84 572.81C903.82 572.43 904.02 570.08 907.69 570.75C911.87 571.52 911.37 575.00 915.54 575.69C919.22 576.30 919.59 574.85 923.39 573.36C927.44 571.77 927.57 571.86 931.24 569.52C935.43 566.86 935.40 566.70 939.09 563.36C943.25 559.58 942.79 555.74 946.94 555.27C950.64 554.85 951.00 561.84 954.79 561.58C958.85 561.29 958.27 555.29 962.64 554.18C966.12 553.30 966.61 555.81 970.49 557.60C974.46 559.44 974.29 561.05 978.34 561.44C982.14 561.80 982.86 557.95 986.19 559.11C990.71 560.69 989.57 565.51 994.04 566.92C997.42 567.98 999.29 566.99 1001.90 564.04C1007.14 558.09 1004.69 552.28 1009.75 549.11C1012.54 547.35 1015.12 556.32 1017.60 554.18C1022.97 549.54 1020.42 538.88 1025.45 535.55C1028.27 533.67 1028.67 541.67 1033.30 543.77C1036.52 545.23 1037.28 542.40 1041.15 542.67C1045.13 542.95 1046.06 546.53 1049.00 544.86C1053.91 542.08 1052.69 539.13 1056.85 533.76C1060.54 529.00 1060.61 529.02 1064.70 524.59C1068.46 520.52 1068.39 520.41 1072.55 516.78C1076.24 513.56 1077.92 514.94 1080.40 510.89C1085.77 502.13 1084.05 491.96 1088.25 491.16C1091.91 490.46 1090.62 501.60 1096.10 507.87C1098.47 510.57 1100.54 510.30 1103.96 509.10C1108.39 507.56 1110.32 498.91 1111.81 502.39C1118.17 517.33 1115.77 546.16 1119.66 545.96C1123.62 545.75 1120.88 521.46 1127.51 501.57C1128.73 497.90 1132.33 497.30 1135.36 498.83C1140.18 501.27 1138.43 505.26 1143.21 509.52C1146.28 512.25 1149.02 509.40 1151.06 512.80C1156.87 522.48 1153.00 526.65 1158.91 535.68C1160.85 538.64 1164.96 539.57 1166.76 536.78C1172.81 527.44 1170.93 524.18 1174.61 511.43C1178.78 496.98 1178.57 482.25 1182.46 482.39C1186.42 482.53 1184.86 505.51 1190.31 511.98C1192.71 514.83 1196.25 497.35 1198.16 501.02C1204.10 512.42 1200.95 535.85 1206.01 542.12C1208.80 545.57 1208.49 530.33 1213.87 520.48C1216.34 515.94 1220.08 509.98 1221.72 513.35C1227.93 526.21 1223.27 539.54 1229.57 552.94C1231.12 556.26 1233.70 546.39 1237.42 546.78C1241.55 547.21 1241.04 551.05 1245.27 554.59C1248.89 557.62 1250.30 561.68 1253.12 559.93C1258.16 556.81 1258.05 542.52 1260.97 544.86C1265.91 548.82 1262.87 560.24 1268.82 572.54C1270.72 576.47 1272.46 575.71 1276.67 577.33C1280.31 578.73 1282.49 581.17 1284.52 578.56C1290.34 571.10 1288.26 567.81 1292.37 557.19C1296.11 547.53 1297.42 547.95 1300.22 538.01C1305.27 520.14 1301.78 518.11 1308.07 501.57C1309.63 497.49 1312.73 499.96 1315.93 496.77C1320.58 492.15 1319.98 485.69 1323.78 485.95C1327.83 486.23 1326.68 493.21 1331.63 497.87C1334.53 500.60 1336.25 498.30 1339.48 500.75C1344.10 504.26 1345.88 513.78 1347.33 509.79C1353.73 492.20 1349.63 468.83 1355.18 457.59C1357.48 457.59 1358.56 468.05 1363.03 478.01C1366.41 485.52 1366.56 491.55 1370.88 492.53C1374.41 493.33 1374.51 486.80 1378.73 481.57C1382.36 477.08 1381.91 475.44 1386.58 473.07C1389.76 471.47 1390.86 474.68 1394.43 473.62C1398.71 472.35 1400.54 465.43 1402.28 468.42C1408.39 478.86 1404.59 493.12 1410.13 500.47C1412.44 503.53 1413.00 493.06 1417.99 489.24C1420.85 487.04 1422.75 490.41 1425.84 488.42C1430.60 485.34 1430.72 477.37 1433.69 479.10C1438.57 481.96 1435.95 490.28 1441.54 497.60C1443.80 500.55 1445.56 498.35 1449.39 499.65C1453.41 501.02 1455.05 505.35 1457.24 502.94C1462.90 496.72 1459.68 487.40 1465.09 482.39C1467.53 480.14 1468.63 487.33 1472.94 488.42C1476.48 489.31 1476.80 486.78 1480.79 486.36C1484.65 485.96 1486.08 489.03 1488.64 486.77C1493.93 482.11 1493.96 469.47 1496.49 472.53C1501.81 478.92 1498.26 490.50 1504.34 505.68C1506.11 510.09 1508.10 511.31 1512.19 511.71C1515.95 512.07 1517.25 505.43 1520.04 507.19C1525.10 510.36 1523.84 514.46 1527.90 521.57C1531.69 528.22 1532.04 535.21 1535.75 534.72C1539.89 534.18 1538.33 523.60 1543.60 519.52C1546.18 517.51 1549.67 525.32 1551.45 522.53C1557.52 512.99 1556.68 489.99 1559.30 494.86C1564.53 504.58 1560.25 526.20 1567.15 551.71C1568.10 555.24 1571.11 553.11 1575.00 552.94C1578.96 552.77 1580.04 553.55 1582.85 551.03C1587.89 546.50 1585.64 542.28 1590.70 538.83C1593.49 536.94 1594.59 539.93 1598.55 540.34C1602.44 540.75 1603.10 542.01 1606.40 540.48C1610.95 538.38 1609.75 534.73 1614.25 533.08C1617.60 531.85 1618.57 535.68 1622.10 534.72C1626.42 533.56 1625.67 531.04 1629.96 528.83C1633.52 527.00 1633.91 526.54 1637.81 526.64C1641.76 526.74 1642.48 530.60 1645.66 529.24C1650.33 527.24 1649.33 520.48 1653.51 519.93C1657.18 519.45 1657.47 527.26 1661.36 527.19C1665.32 527.12 1665.95 518.49 1669.21 519.65C1673.80 521.30 1672.92 532.30 1677.06 532.81C1680.77 533.26 1680.06 526.02 1684.91 521.57C1687.91 518.83 1690.49 516.10 1692.76 518.42C1698.34 524.11 1694.98 529.89 1700.61 537.60C1702.84 540.65 1706.77 542.78 1708.46 539.93C1714.62 529.56 1711.33 525.13 1716.31 511.16C1719.18 503.14 1718.79 500.97 1724.16 495.95C1726.64 493.64 1728.26 495.55 1732.01 496.50C1736.11 497.54 1736.53 497.39 1739.87 499.93C1744.38 503.35 1743.05 506.14 1747.72 508.42C1750.90 509.98 1752.51 505.89 1755.57 507.60C1760.36 510.28 1759.59 512.31 1763.42 517.19C1767.44 522.32 1767.34 522.39 1771.27 527.60C1775.19 532.81 1774.22 534.64 1779.12 538.01C1782.07 540.05 1783.68 539.92 1786.97 538.42C1791.53 536.36 1790.74 531.21 1794.82 530.89C1798.59 530.59 1799.00 533.76 1802.67 537.19C1806.85 541.09 1805.97 542.33 1810.52 545.55C1813.82 547.88 1816.11 545.16 1818.37 548.29C1823.96 555.98 1820.58 559.81 1826.22 567.19C1828.43 570.09 1834.07 568.84 1834.07 568.84" fill="none" stroke="#2ec7c9" stroke-width="2" stroke-linejoin="round"/><g fill="#a4ecea"><circle cx="789.93" cy="582.35" r="1.05"/><circle cx="797.78" cy="582.26" r="1.05"/><circle cx="805.63" cy="582.13" r="1.05"/><circle cx="813.48" cy="581.85" r="1.05"/><circle cx="821.33" cy="581.03" r="1.05"/><circle cx="829.18" cy="580.35" r="1.05"/><circle cx="837.03" cy="579.85" r="1.05"/><circle cx="844.88" cy="579.66" r="1.05"/><circle cx="852.73" cy="579.39" r="1.05"/><circle cx="860.58" cy="578.70" r="1.05"/><circle cx="868.43" cy="577.47" r="1.05"/><circle cx="876.28" cy="575.55" r="1.05"/><circle cx="884.13" cy="573.36" r="1.05"/><circle cx="891.99" cy="572.26" r="1.05"/><circle cx="899.84" cy="572.81" r="1.05"/><circle cx="907.69" cy="570.75" r="1.05"/><circle cx="915.54" cy="575.69" r="1.05"/><circle cx="923.39" cy="573.36" r="1.05"/><circle cx="931.24" cy="569.52" r="1.05"/><circle cx="939.09" cy="563.36" r="1.05"/><circle cx="946.94" cy="555.27" r="1.05"/><circle cx="954.79" cy="561.58" r="1.05"/><circle cx="962.64" cy="554.18" r="1.05"/><circle cx="970.49" cy="557.60" r="1.05"/><circle cx="978.34" cy="561.44" r="1.05"/><circle cx="986.19" cy="559.11" r="1.05"/><circle cx="994.04" cy="566.92" r="1.05"/><circle cx="1001.90" cy="564.04" r="1.05"/><circle cx="1009.75" cy="549.11" r="1.05"/><circle cx="1017.60" cy="554.18" r="1.05"/><circle cx="1025.45" cy="535.55" r="1.05"/><circle cx="1033.30" cy="543.77" r="1.05"/><circle cx="1041.15" cy="542.67" r="1.05"/><circle cx="1049.00" cy="544.86" r="1.05"/><circle cx="1056.85" cy="533.76" r="1.05"/><circle cx="1064.70" cy="524.59" r="1.05"/><circle cx="1072.55" cy="516.78" r="1.05"/><circle cx="1080.40" cy="510.89" r="1.05"/><circle cx="1088.25" cy="491.16" r="1.05"/><circle cx="1096.10" cy="507.87" r="1.05"/><circle cx="1103.96" cy="509.10" r="1.05"/><circle cx="1111.81" cy="502.39" r="1.05"/><circle cx="1119.66" cy="545.96" r="1.05"/><circle cx="1127.51" cy="501.57" r="1.05"/><circle cx="1135.36" cy="498.83" r="1.05"/><circle cx="1143.21" cy="509.52" r="1.05"/><circle cx="1151.06" cy="512.80" r="1.05"/><circle cx="1158.91" cy="535.68" r="1.05"/><circle cx="1166.76" cy="536.78" r="1.05"/><circle cx="1174.61" cy="511.43" r="1.05"/><circle cx="1182.46" cy="482.39" r="1.05"/><circle cx="1190.31" cy="511.98" r="1.05"/><circle cx="1198.16" cy="501.02" r="1.05"/><circle cx="1206.01" cy="542.12" r="1.05"/><circle cx="1213.87" cy="520.48" r="1.05"/><circle cx="1221.72" cy="513.35" r="1.05"/><circle cx="1229.57" cy="552.94" r="1.05"/><circle cx="1237.42" cy="546.78" r="1.05"/><circle cx="1245.27" cy="554.59" r="1.05"/><circle cx="1253.12" cy="559.93" r="1.05"/><circle cx="1260.97" cy="544.86" r="1.05"/><circle cx="1268.82" cy="572.54" r="1.05"/><circle cx="1276.67" cy="577.33" r="1.05"/><circle cx="1284.52" cy="578.56" r="1.05"/><circle cx="1292.37" cy="557.19" r="1.05"/><circle cx="1300.22" cy="538.01" r="1.05"/><circle cx="1308.07" cy="501.57" r="1.05"/><circle cx="1315.93" cy="496.77" r="1.05"/><circle cx="1323.78" cy="485.95" r="1.05"/><circle cx="1331.63" cy="497.87" r="1.05"/><circle cx="1339.48" cy="500.75" r="1.05"/><circle cx="1347.33" cy="509.79" r="1.05"/><circle cx="1355.18" cy="457.59" r="1.05"/><circle cx="1363.03" cy="478.01" r="1.05"/><circle cx="1370.88" cy="492.53" r="1.05"/><circle cx="1378.73" cy="481.57" r="1.05"/><circle cx="1386.58" cy="473.07" r="1.05"/><circle cx="1394.43" cy="473.62" r="1.05"/><circle cx="1402.28" cy="468.42" r="1.05"/><circle cx="1410.13" cy="500.47" r="1.05"/><circle cx="1417.99" cy="489.24" r="1.05"/><circle cx="1425.84" cy="488.42" r="1.05"/><circle cx="1433.69" cy="479.10" r="1.05"/><circle cx="1441.54" cy="497.60" r="1.05"/><circle cx="1449.39" cy="499.65" r="1.05"/><circle cx="1457.24" cy="502.94" r="1.05"/><circle cx="1465.09" cy="482.39" r="1.05"/><circle cx="1472.94" cy="488.42" r="1.05"/><circle cx="1480.79" cy="486.36" r="1.05"/><circle cx="1488.64" cy="486.77" r="1.05"/><circle cx="1496.49" cy="472.53" r="1.05"/><circle cx="1504.34" cy="505.68" r="1.05"/><circle cx="1512.19" cy="511.71" r="1.05"/><circle cx="1520.04" cy="507.19" r="1.05"/><circle cx="1527.90" cy="521.57" r="1.05"/><circle cx="1535.75" cy="534.72" r="1.05"/><circle cx="1543.60" cy="519.52" r="1.05"/><circle cx="1551.45" cy="522.53" r="1.05"/><circle cx="1559.30" cy="494.86" r="1.05"/><circle cx="1567.15" cy="551.71" r="1.05"/><circle cx="1575.00" cy="552.94" r="1.05"/><circle cx="1582.85" cy="551.03" r="1.05"/><circle cx="1590.70" cy="538.83" r="1.05"/><circle cx="1598.55" cy="540.34" r="1.05"/><circle cx="1606.40" cy="540.48" r="1.05"/><circle cx="1614.25" cy="533.08" r="1.05"/><circle cx="1622.10" cy="534.72" r="1.05"/><circle cx="1629.96" cy="528.83" r="1.05"/><circle cx="1637.81" cy="526.64" r="1.05"/><circle cx="1645.66" cy="529.24" r="1.05"/><circle cx="1653.51" cy="519.93" r="1.05"/><circle cx="1661.36" cy="527.19" r="1.05"/><circle cx="1669.21" cy="519.65" r="1.05"/><circle cx="1677.06" cy="532.81" r="1.05"/><circle cx="1684.91" cy="521.57" r="1.05"/><circle cx="1692.76" cy="518.42" r="1.05"/><circle cx="1700.61" cy="537.60" r="1.05"/><circle cx="1708.46" cy="539.93" r="1.05"/><circle cx="1716.31" cy="511.16" r="1.05"/><circle cx="1724.16" cy="495.95" r="1.05"/><circle cx="1732.01" cy="496.50" r="1.05"/><circle cx="1739.87" cy="499.93" r="1.05"/><circle cx="1747.72" cy="508.42" r="1.05"/><circle cx="1755.57" cy="507.60" r="1.05"/><circle cx="1763.42" cy="517.19" r="1.05"/><circle cx="1771.27" cy="527.60" r="1.05"/><circle cx="1779.12" cy="538.01" r="1.05"/><circle cx="1786.97" cy="538.42" r="1.05"/><circle cx="1794.82" cy="530.89" r="1.05"/><circle cx="1802.67" cy="537.19" r="1.05"/><circle cx="1810.52" cy="545.55" r="1.05"/><circle cx="1818.37" cy="548.29" r="1.05"/><circle cx="1826.22" cy="567.19" r="1.05"/><circle cx="1834.07" cy="568.84" r="1.05"/></g><circle cx="789.93" cy="582.35" r="5" fill="#2ec7c9"/><circle cx="1355.18" cy="457.59" r="5" fill="#2ec7c9"/><text x="789.93" y="569.9" text-anchor="middle" font-size="12.5" fill="#2ec7c9" stroke="#2ec7c9" textLength="48.5" lengthAdjust="spacingAndGlyphs" font-family='"Liberation Sans","Noto Sans CJK SC",sans-serif'>Min:0.02</text><text x="1355.18" y="444.7" text-anchor="middle" font-size="12.5" fill="#2ec7c9" stroke="#2ec7c9" textLength="58.2" lengthAdjust="spacingAndGlyphs" font-family='"Liberation Sans","Noto Sans CJK SC",sans-serif'>Max:45.55</text></svg>
<svg style="left:1776px;top:408px" width="120" height="36" viewBox="0 0 1917 575" fill="none" stroke="#dfe3ea" stroke-width="17">
<path d="M165 208H285M228 145V262M312 208H407V390H228V290"/>
<path d="M668 150L617 205L668 260M617 205H808V390H615V282"/>
<path d="M1012 268A124 124 0 0 1 1250 222M1258 276A124 124 0 0 1 1020 326"/><path d="M1262 180L1250 226L1204 214M1008 368L1020 322L1066 334"/>
<path d="M1565 145V342M1460 245L1565 345L1670 245M1458 335V395H1675V335"/>
</svg>
<div class="bar" style="left:82px;top:661px"></div>
<div class="ttl" style="left:94px;top:660px">逆变器</div>
<div class="abs" style="left:82.00px;top:699px;width:596.5px;height:33px;background:#186078"></div>
<div class="t" style="top:707.00px;font-size:14px;color:#fff;left:91.70px;">安科瑞A楼5F</div>
<div class="abs" style="left:577.50px;top:710.7px;width:9.6px;height:9.6px;border-radius:50%;background:#0fdb4a"></div>
<svg style="left:595.00px;top:703px" width="36" height="25" viewBox="0 0 36 25" fill="none" stroke="#fff" stroke-width="1"><path d="M7.5 0.900V23.700M7.500 17.500H34.300V7M7.500 9.400H1.300V15.500H7.500"/><path d="M7.500 6.600H34.800" stroke="#9fc2cc" stroke-width="1.1"/></svg>
<div class="t" style="top:704.70px;font-size:14px;color:#fff;left:640.60px;">在线</div>
<svg style="left:0;top:0" width="1917" height="938" viewBox="0 0 1917 938"><path d="M153.2 754.2L173.5 747.2L249.3 754.2L249.3 849.6L173.5 859.9L153.2 849.6ZM173.5 747.2L173.5 859.9M195.4 830.0L226.3 827.2L226.3 841.6L195.4 845.8ZM180.8 858.9L181.6 861.6L188.4 861.6L189.2 857.8M229.6 852.3L230.6 855.2L238.2 855.2L239.2 851.0" fill="none" stroke="#d5dae3" stroke-width="0.9" stroke-linejoin="round"/><path d="M197.6 834.4L203.4 833.9M197.6 837.2L203.4 836.7M197.6 840.0L203.4 839.5M220.2 832.4L224.2 832.0M220.2 835.2L224.2 834.8M220.2 838.0L224.2 837.6" fill="none" stroke="#d5dae3" stroke-width="0.8"/><path d="M207.1 832.6L217.7 831.7L217.7 839.9L207.1 841.0Z" fill="#f4f6f9"/></svg>
<div class="abs" style="left:106.00px;top:877px;width:191px;height:30px;background:#294a82;border-radius:2px;clip-path:polygon(0 0,100% 0,93.2% 50%,100% 100%,0 100%);font-size:14px;line-height:30px;text-align:center;color:#fff">查看详情</div>
<div class="t" style="top:744.20px;font-size:14px;color:#fff;left:320.50px;">厂家：阳光电源股份有限公司</div>
<div class="t" style="top:774.22px;font-size:14px;color:#fff;left:320.50px;">逆变器ID：101001400001</div>
<div class="t" style="top:804.24px;font-size:14px;color:#fff;left:320.50px;">设备型号：SG33CX-2P-CN</div>
<div class="t" style="top:834.26px;font-size:14px;color:#fff;left:320.50px;">状态：<span style="color:#00ffba">运行正常</span></div>
<div class="t" style="top:864.28px;font-size:14px;color:#fff;left:320.50px;">额定功率：33kW</div>
<div class="t" style="top:894.30px;font-size:14px;color:#fff;left:320.50px;">设备类型：组串</div>
<div class="abs" style="left:683.50px;top:699px;width:596.5px;height:33px;background:#186078"></div>
<div class="t" style="top:707.00px;font-size:14px;color:#fff;left:693.20px;">安科瑞B楼3F</div>
<div class="abs" style="left:1179.00px;top:710.7px;width:9.6px;height:9.6px;border-radius:50%;background:#0fdb4a"></div>
<svg style="left:1196.50px;top:703px" width="36" height="25" viewBox="0 0 36 25" fill="none" stroke="#fff" stroke-width="1"><path d="M7.5 0.900V23.700M7.500 17.500H34.300V7M7.500 9.400H1.300V15.500H7.500"/><path d="M7.500 6.600H34.800" stroke="#9fc2cc" stroke-width="1.1"/></svg>
<div class="t" style="top:704.70px;font-size:14px;color:#fff;left:1242.10px;">在线</div>
<svg style="left:0;top:0" width="1917" height="938" viewBox="0 0 1917 938"><path d="M754.7 754.2L775.0 747.2L850.8 754.2L850.8 849.6L775.0 859.9L754.7 849.6ZM775.0 747.2L775.0 859.9M796.9 830.0L827.8 827.2L827.8 841.6L796.9 845.8ZM782.3 858.9L783.1 861.6L789.9 861.6L790.7 857.8M831.1 852.3L832.1 855.2L839.7 855.2L840.7 851.0" fill="none" stroke="#d5dae3" stroke-width="0.9" stroke-linejoin="round"/><path d="M799.1 834.4L804.9 833.9M799.1 837.2L804.9 836.7M799.1 840.0L804.9 839.5M821.7 832.4L825.7 832.0M821.7 835.2L825.7 834.8M821.7 838.0L825.7 837.6" fill="none" stroke="#d5dae3" stroke-width="0.8"/><path d="M808.6 832.6L819.2 831.7L819.2 839.9L808.6 841.0Z" fill="#f4f6f9"/></svg>
<div class="abs" style="left:707.50px;top:877px;width:191px;height:30px;background:#294a82;border-radius:2px;clip-path:polygon(0 0,100% 0,93.2% 50%,100% 100%,0 100%);font-size:14px;line-height:30px;text-align:center;color:#fff">查看详情</div>
<div class="t" style="top:744.20px;font-size:14px;color:#fff;left:922.00px;">厂家：江苏固德威电源科技有限公司</div>
<div class="t" style="top:774.22px;font-size:14px;color:#fff;left:922.00px;">逆变器ID：101001400002</div>
<div class="t" style="top:804.24px;font-size:14px;color:#fff;left:922.00px;">设备型号：GW20K-DT</div>
<div class="t" style="top:834.26px;font-size:14px;color:#fff;left:922.00px;">状态：<span style="color:#00ffba">运行正常</span></div>
<div class="t" style="top:864.28px;font-size:14px;color:#fff;left:922.00px;">额定功率：20kW</div>
<div class="t" style="top:894.30px;font-size:14px;color:#fff;left:922.00px;">设备类型：组串</div>
<div class="abs" style="left:1285.00px;top:699px;width:596.5px;height:33px;background:#186078"></div>
<div class="t" style="top:707.00px;font-size:14px;color:#fff;left:1294.70px;">安科瑞E楼6F</div>
<div class="abs" style="left:1780.50px;top:710.7px;width:9.6px;height:9.6px;border-radius:50%;background:#0fdb4a"></div>
<svg style="left:1798.00px;top:703px" width="36" height="25" viewBox="0 0 36 25" fill="none" stroke="#fff" stroke-width="1"><path d="M7.5 0.900V23.700M7.500 17.500H34.300V7M7.500 9.400H1.300V15.500H7.500"/><path d="M7.500 6.600H34.800" stroke="#9fc2cc" stroke-width="1.1"/></svg>
<div class="t" style="top:704.70px;font-size:14px;color:#fff;left:1843.60px;">在线</div>
<svg style="left:0;top:0" width="1917" height="938" viewBox="0 0 1917 938"><path d="M1356.2 754.2L1376.5 747.2L1452.3 754.2L1452.3 849.6L1376.5 859.9L1356.2 849.6ZM1376.5 747.2L1376.5 859.9M1398.4 830.0L1429.3 827.2L1429.3 841.6L1398.4 845.8ZM1383.8 858.9L1384.6 861.6L1391.4 861.6L1392.2 857.8M1432.6 852.3L1433.6 855.2L1441.2 855.2L1442.2 851.0" fill="none" stroke="#d5dae3" stroke-width="0.9" stroke-linejoin="round"/><path d="M1400.6 834.4L1406.4 833.9M1400.6 837.2L1406.4 836.7M1400.6 840.0L1406.4 839.5M1423.2 832.4L1427.2 832.0M1423.2 835.2L1427.2 834.8M1423.2 838.0L1427.2 837.6" fill="none" stroke="#d5dae3" stroke-width="0.8"/><path d="M1410.1 832.6L1420.7 831.7L1420.7 839.9L1410.1 841.0Z" fill="#f4f6f9"/></svg>
<div class="abs" style="left:1309.00px;top:877px;width:191px;height:30px;background:#294a82;border-radius:2px;clip-path:polygon(0 0,100% 0,93.2% 50%,100% 100%,0 100%);font-size:14px;line-height:30px;text-align:center;color:#fff">查看详情</div>
<div class="t" style="top:744.20px;font-size:14px;color:#fff;left:1523.50px;">厂家：锦浪科技股份有限公司</div>
<div class="t" style="top:774.22px;font-size:14px;color:#fff;left:1523.50px;">逆变器ID：101001400003</div>
<div class="t" style="top:804.24px;font-size:14px;color:#fff;left:1523.50px;">设备型号：GCI-3P20K-5G</div>
<div class="t" style="top:834.26px;font-size:14px;color:#fff;left:1523.50px;">状态：<span style="color:#00ffba">运行正常</span></div>
<div class="t" style="top:864.28px;font-size:14px;color:#fff;left:1523.50px;">额定功率：20kW</div>
<div class="t" style="top:894.30px;font-size:14px;color:#fff;left:1523.50px;">设备类型：组串</div>
<svg style="left:1740px;top:865px" width="177" height="73" viewBox="0 0 1917 791">
<g fill="#fff">
<path d="M515 292C620 285 712 350 712 455C712 560 640 618 560 618C520 618 498 600 505 585C560 590 610 540 610 470C610 420 580 395 540 395C470 395 420 460 420 530C420 610 470 660 550 660C610 660 650 630 680 590C670 670 590 728 495 728C400 728 322 650 322 545C322 410 400 300 515 292Z"/>
<ellipse cx="529" cy="180" rx="33" ry="84"/>
<ellipse cx="685" cy="198" rx="30" ry="88" transform="rotate(27 685 198)"/>
<ellipse cx="373" cy="250" rx="32" ry="74" transform="rotate(-35 373 250)"/>
<ellipse cx="255" cy="395" rx="30" ry="75" transform="rotate(-72 255 395)"/>
<ellipse cx="207" cy="563" rx="28" ry="78" transform="rotate(-108 207 563)"/>
</g>
<text x="762" y="466" font-family='"Liberation Sans","Noto Sans CJK SC",sans-serif' font-weight="700" font-style="italic" font-size="118" fill="#fff" textLength="455" lengthAdjust="spacingAndGlyphs">IN-EN</text>
<text x="1222" y="466" font-family='"Liberation Sans","Noto Sans CJK SC",sans-serif' font-weight="700" font-style="italic" font-size="78" fill="#fff" textLength="220" lengthAdjust="spacingAndGlyphs">.com</text>
<text x="735" y="678" font-family='"Liberation Sans","Noto Sans CJK SC",sans-serif' font-weight="900" font-size="212" fill="#fff" textLength="1075" lengthAdjust="spacingAndGlyphs" transform="skewX(-12) translate(142 0)">国际能源网</text>
</svg>
</body></html>
